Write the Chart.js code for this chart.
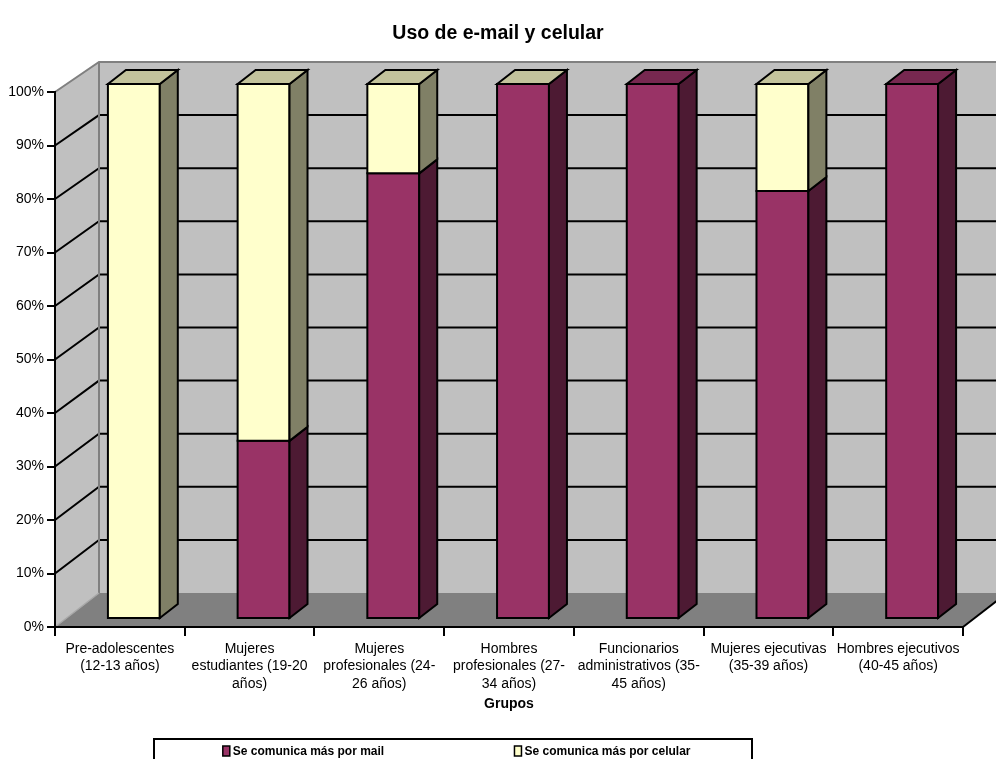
<!DOCTYPE html>
<html>
<head>
<meta charset="utf-8">
<script src="https://cdn.jsdelivr.net/npm/chart.js@4.4.1/dist/chart.umd.min.js"></script>
<style>
  html, body { margin: 0; padding: 0; background: #ffffff; }
  #wrap { width: 996px; height: 759px; }
</style>
</head>
<body>
<div id="wrap"><canvas id="chart" width="996" height="759"></canvas></div>
<script>
// ---- data ----
const categories = [
  ['Pre-adolescentes', '(12-13 años)'],
  ['Mujeres', 'estudiantes (19-20', 'años)'],
  ['Mujeres', 'profesionales (24-', '26 años)'],
  ['Hombres', 'profesionales (27-', '34 años)'],
  ['Funcionarios', 'administrativos (35-', '45 años)'],
  ['Mujeres ejecutivas', '(35-39 años)'],
  ['Hombres ejecutivos', '(40-45 años)']
];
const seriesNames = ['Se comunica más por mail', 'Se comunica más por celular'];
const mailPct = [0, 33.3, 83.3, 100, 100, 80, 100];
const celularPct = [100, 66.7, 16.7, 0, null, 20, null];
const chartTitle = 'Uso de e-mail y celular';
const xAxisTitle = 'Grupos';

// ---- styles ----
const FONT = "'Liberation Sans', Arial, Helvetica, sans-serif";
const faceFront = ['#993366', '#FFFFCC'];
const faceSide  = ['#4D1A33', '#808066'];
const faceTop   = ['#772850', '#C3C39C'];
const WALL = '#C0C0C0', FLOOR = '#808080', EDGE = '#808080';
// depth of the plot box: back plane is shifted right/up and slightly shorter
const DEPTH = { dx: 44, dyBottom: -34, shrink: 0.9925 };
// where a column sits inside that depth
const BAR3D = { ox: 14, oy: -8, dx: 18, dy: -14 };

function poly(ctx, pts) {
  ctx.beginPath();
  ctx.moveTo(pts[0][0], pts[0][1]);
  for (let i = 1; i < pts.length; i++) ctx.lineTo(pts[i][0], pts[i][1]);
  ctx.closePath();
}

// map a front-plane pixel row onto the back wall
function backY(a, py) {
  return a.bottom + DEPTH.dyBottom + (py - a.bottom) * DEPTH.shrink;
}

// walls, floor and back gridlines
const boxPlugin = {
  id: 'box3d',
  beforeDraw(chart) {
    const { ctx, chartArea: a, scales } = chart;
    const y = scales.y;
    const dx = DEPTH.dx;
    const bl = a.left + dx, br = a.right + dx;
    const bTop = backY(a, a.top), bBot = backY(a, a.bottom);
    ctx.save();
    // back wall
    ctx.fillStyle = WALL;
    ctx.fillRect(bl, bTop, br - bl, bBot - bTop);
    // side wall
    poly(ctx, [[a.left, a.top], [bl, bTop], [bl, bBot], [a.left, a.bottom]]);
    ctx.fill();
    // floor
    ctx.fillStyle = FLOOR;
    poly(ctx, [[a.left, a.bottom], [bl, bBot], [br, bBot], [a.right, a.bottom]]);
    ctx.fill();

    // gridlines on the side and back walls
    ctx.strokeStyle = '#000000';
    ctx.lineWidth = 2;
    y.ticks.forEach(t => {
      if (t.value <= y.min || t.value >= y.max) return;
      const py = y.getPixelForValue(t.value);
      const by = backY(a, py);
      ctx.beginPath();
      ctx.moveTo(a.left, py);
      ctx.lineTo(bl, by);
      ctx.lineTo(br, by);
      ctx.stroke();
    });

    // wall edges
    ctx.strokeStyle = EDGE;
    ctx.beginPath();
    ctx.moveTo(a.left, a.top);
    ctx.lineTo(bl, bTop);
    ctx.lineTo(br, bTop);
    ctx.moveTo(bl, bTop);
    ctx.lineTo(bl, bBot);
    ctx.stroke();
    ctx.strokeStyle = '#A8A8A8';
    ctx.lineWidth = 1.5;
    ctx.beginPath();
    ctx.moveTo(a.left, a.bottom);
    ctx.lineTo(bl, bBot);
    ctx.stroke();
    // front-right floor edge
    ctx.strokeStyle = '#000000';
    ctx.lineWidth = 2;
    ctx.beginPath();
    ctx.moveTo(a.right, a.bottom);
    ctx.lineTo(br, bBot);
    ctx.stroke();
    ctx.restore();
  },
  // 3D columns from the bar elements laid out by the scales
  afterDatasetsDraw(chart) {
    const { ctx } = chart;
    const n = chart.data.labels.length;
    const nSets = chart.data.datasets.length;
    ctx.save();
    ctx.lineWidth = 2;
    ctx.lineJoin = 'miter';
    ctx.strokeStyle = '#000000';
    for (let j = 0; j < n; j++) {
      // topmost series with a value gets the top face
      let topSet = -1;
      for (let i = 0; i < nSets; i++) {
        const v = chart.data.datasets[i].data[j];
        if (v !== null && v !== undefined) topSet = i;
      }
      for (let i = 0; i < nSets; i++) {
        const v = chart.data.datasets[i].data[j];
        if (v === null || v === undefined) continue;
        const el = chart.getDatasetMeta(i).data[j];
        const p = el.getProps(['x', 'y', 'base', 'width'], true);
        const x0 = p.x - p.width / 2 + BAR3D.ox;
        const x1 = p.x + p.width / 2 + BAR3D.ox;
        const yt = Math.min(p.y, p.base) + BAR3D.oy;
        const yb = Math.max(p.y, p.base) + BAR3D.oy;
        const bx = BAR3D.dx, by = BAR3D.dy;
        if (yb - yt > 0.5) {
          // front face
          ctx.fillStyle = faceFront[i];
          poly(ctx, [[x0, yt], [x1, yt], [x1, yb], [x0, yb]]);
          ctx.fill(); ctx.stroke();
          // side face
          ctx.fillStyle = faceSide[i];
          poly(ctx, [[x1, yt], [x1 + bx, yt + by], [x1 + bx, yb + by], [x1, yb]]);
          ctx.fill(); ctx.stroke();
        }
        if (i === topSet) {
          ctx.fillStyle = faceTop[i];
          poly(ctx, [[x0, yt], [x0 + bx, yt + by], [x1 + bx, yt + by], [x1, yt]]);
          ctx.fill(); ctx.stroke();
        }
      }
    }
    ctx.restore();
  },
  // boxed legend under the axis
  afterDraw(chart) {
    const { ctx } = chart;
    const box = { left: 154, top: 739, right: 752, bottom: 775 };
    const cy = 751;
    ctx.save();
    ctx.strokeStyle = '#000000';
    ctx.lineWidth = 2;
    ctx.strokeRect(box.left, box.top, box.right - box.left, box.bottom - box.top);
    ctx.font = 'bold 12px ' + FONT;
    ctx.textBaseline = 'middle';
    ctx.textAlign = 'left';
    const colW = (box.right - box.left) / chart.data.datasets.length;
    chart.data.datasets.forEach((ds, i) => {
      const tw = ctx.measureText(ds.label).width;
      const itemW = 10 + tw;
      const sx = box.left + colW * i + (colW - itemW) / 2;
      ctx.fillStyle = faceFront[i];
      ctx.lineWidth = 1.5;
      ctx.fillRect(sx, cy - 5, 7, 10);
      ctx.strokeRect(sx, cy - 5, 7, 10);
      ctx.fillStyle = '#000000';
      ctx.fillText(ds.label, sx + 10, cy + 0.5);
    });
    ctx.restore();
  }
};

new Chart(document.getElementById('chart'), {
  type: 'bar',
  data: {
    labels: categories,
    datasets: [
      { label: seriesNames[0], data: mailPct, backgroundColor: 'rgba(0,0,0,0)', borderWidth: 0 },
      { label: seriesNames[1], data: celularPct, backgroundColor: 'rgba(0,0,0,0)', borderWidth: 0 }
    ]
  },
  options: {
    responsive: false,
    animation: false,
    devicePixelRatio: 1,
    categoryPercentage: 1.0,
    barPercentage: 0.4,
    layout: { padding: { left: 0, right: 0, top: 0, bottom: 0 } },
    plugins: {
      legend: { display: false },
      tooltip: { enabled: false },
      title: {
        display: true,
        text: chartTitle,
        color: '#000000',
        font: { family: FONT, size: 19.5, weight: 'bold', lineHeight: 1.2 },
        padding: { top: 21.5, bottom: 47.1 }
      }
    },
    scales: {
      x: {
        stacked: true,
        offset: true,
        grid: {
          offset: true,
          drawOnChartArea: false,
          drawTicks: true,
          tickLength: 9,
          color: '#000000',
          lineWidth: 2
        },
        border: { display: true, color: '#000000', width: 2 },
        ticks: {
          autoSkip: false,
          maxRotation: 0,
          minRotation: 0,
          padding: 4,
          color: '#000000',
          font: { family: FONT, size: 14, lineHeight: 1.25 }
        },
        title: {
          display: true,
          text: xAxisTitle,
          color: '#000000',
          font: { family: FONT, size: 14, weight: 'bold', lineHeight: 1.2 },
          padding: { top: 0, bottom: 46.6 }
        },
        afterFit(scale) { scale.height = 132; }
      },
      y: {
        stacked: true,
        min: 0,
        max: 100,
        grid: {
          drawOnChartArea: false,
          drawTicks: true,
          tickLength: 8,
          color: '#000000',
          lineWidth: 2
        },
        border: { display: true, color: '#000000', width: 2 },
        ticks: {
          stepSize: 10,
          padding: 3,
          color: '#000000',
          font: { family: FONT, size: 14 },
          callback: v => v + '%'
        },
        afterFit(scale) { scale.width = 55; }
      },
      // empty right-hand gutter that leaves room for the box depth
      depthGutter: {
        type: 'linear',
        position: 'right',
        display: true,
        grid: { display: false, drawTicks: false },
        border: { display: false },
        ticks: { display: false },
        afterFit(scale) { scale.width = 33; }
      }
    }
  },
  plugins: [boxPlugin]
});
</script>
</body>
</html>
